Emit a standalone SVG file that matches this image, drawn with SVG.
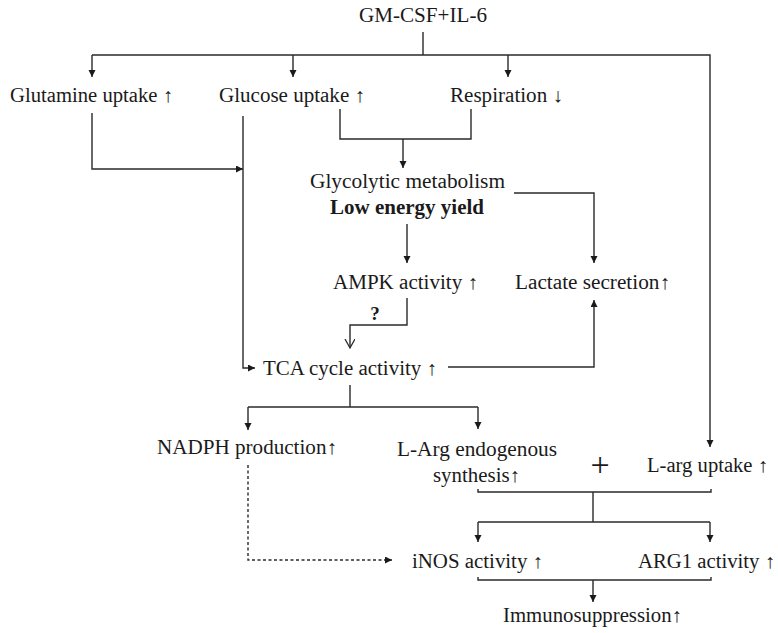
<svg xmlns="http://www.w3.org/2000/svg" width="778" height="633" viewBox="0 0 778 633" font-family="'Liberation Serif', 'Times New Roman', 'DejaVu Serif', serif">
  <style>
    text { font-family: "Liberation Serif", "Times New Roman", "DejaVu Serif", serif; }
    .t { font-size: 20px; fill: #1a1a1a; }
    .b { font-weight: bold; }
    .q { font-size: 19px; }
    .p { font-size: 34px; }
    .c { fill: none; stroke: #2a2a2a; stroke-width: 1.4; }
    .a { marker-end: url(#arr); }
    .o { marker-end: url(#open); }
    .d { stroke-dasharray: 3 2.5; }
  </style>
  <defs>
    <marker id="arr" markerUnits="userSpaceOnUse" markerWidth="8" markerHeight="8" refX="7" refY="3.5" orient="auto">
      <path d="M0,0 L7,3.5 L0,7 z" fill="#1a1a1a"/>
    </marker>
    <marker id="open" markerUnits="userSpaceOnUse" markerWidth="12" markerHeight="12" refX="9" refY="5" orient="auto">
      <path d="M0,0 L9,5 L0,10" fill="none" stroke="#2a2a2a" stroke-width="1.3"/>
    </marker>
  </defs>
  <rect width="778" height="633" fill="#ffffff"/>

  <!-- connectors -->
  <g id="connectors">
    <path class="c" d="M423,32 V55"/>
    <path class="c a" d="M92,55 H710 V447"/>
    <path class="c a" d="M92,55 V77"/>
    <path class="c a" d="M293,55 V77"/>
    <path class="c a" d="M508,55 V77"/>
    <path class="c a" d="M92,113 V169 H243"/>
    <path class="c a" d="M243,116 V368 H255"/>
    <path class="c" d="M340,109 V139 H471 V109"/>
    <path class="c a" d="M403,139 V168"/>
    <path class="c a" d="M514,193 H594 V263"/>
    <path class="c a" d="M407,224 V263"/>
    <path class="c o" d="M407,298 V325 H350 V348"/>
    <path class="c a" d="M448,367 H594 V300"/>
    <path class="c" d="M350,385 V407"/>
    <path class="c" d="M248,407 H478"/>
    <path class="c a" d="M248,407 V430"/>
    <path class="c a" d="M478,407 V429"/>
    <path class="c d a" d="M248,465 V560 H392"/>
    <path class="c" d="M478,489 V492 H711 V489"/>
    <path class="c" d="M593,492 V522"/>
    <path class="c" d="M478,522 H710"/>
    <path class="c a" d="M478,522 V542"/>
    <path class="c a" d="M710,522 V542"/>
    <path class="c" d="M478,577 V580 H711 V577"/>
    <path class="c a" d="M593,580 V602"/>
  </g>

  <!-- nodes -->
  <g id="gmcsf"><text class="t" x="359" y="22" textLength="128" lengthAdjust="spacingAndGlyphs">GM-CSF+IL-6</text></g>
  <g id="glutamine"><text class="t" x="10" y="102" textLength="163" lengthAdjust="spacingAndGlyphs">Glutamine uptake ↑</text></g>
  <g id="glucose"><text class="t" x="219" y="102" textLength="146" lengthAdjust="spacingAndGlyphs">Glucose uptake ↑</text></g>
  <g id="respiration"><text class="t" x="450" y="102" textLength="113" lengthAdjust="spacingAndGlyphs">Respiration ↓</text></g>
  <g id="glycolytic">
    <text class="t" x="310" y="188" textLength="195" lengthAdjust="spacingAndGlyphs">Glycolytic metabolism</text>
    <text class="t b" x="330" y="214" textLength="154" lengthAdjust="spacingAndGlyphs">Low energy yield</text>
  </g>
  <g id="ampk"><text class="t" x="333" y="289" textLength="145" lengthAdjust="spacingAndGlyphs">AMPK activity ↑</text></g>
  <g id="lactate"><text class="t" x="515" y="289" textLength="155" lengthAdjust="spacingAndGlyphs">Lactate secretion↑</text></g>
  <g id="question"><text class="t b q" x="375" y="320" text-anchor="middle">?</text></g>
  <g id="tca"><text class="t" x="263" y="375" textLength="174" lengthAdjust="spacingAndGlyphs">TCA cycle activity ↑</text></g>
  <g id="nadph"><text class="t" x="157" y="454" textLength="180" lengthAdjust="spacingAndGlyphs">NADPH production↑</text></g>
  <g id="larg-synth">
    <text class="t" x="397" y="456" textLength="160" lengthAdjust="spacingAndGlyphs">L-Arg endogenous</text>
    <text class="t" x="433" y="482" textLength="87" lengthAdjust="spacingAndGlyphs">synthesis↑</text>
  </g>
  <g id="plus"><text class="t p" x="600" y="476" text-anchor="middle">+</text></g>
  <g id="larg-uptake"><text class="t" x="647" y="472" textLength="121" lengthAdjust="spacingAndGlyphs">L-arg uptake ↑</text></g>
  <g id="inos"><text class="t" x="412" y="568" textLength="131" lengthAdjust="spacingAndGlyphs">iNOS activity ↑</text></g>
  <g id="arg1"><text class="t" x="638" y="568" textLength="137" lengthAdjust="spacingAndGlyphs">ARG1 activity ↑</text></g>
  <g id="immuno"><text class="t" x="503" y="622" textLength="179" lengthAdjust="spacingAndGlyphs">Immunosuppression↑</text></g>
</svg>
